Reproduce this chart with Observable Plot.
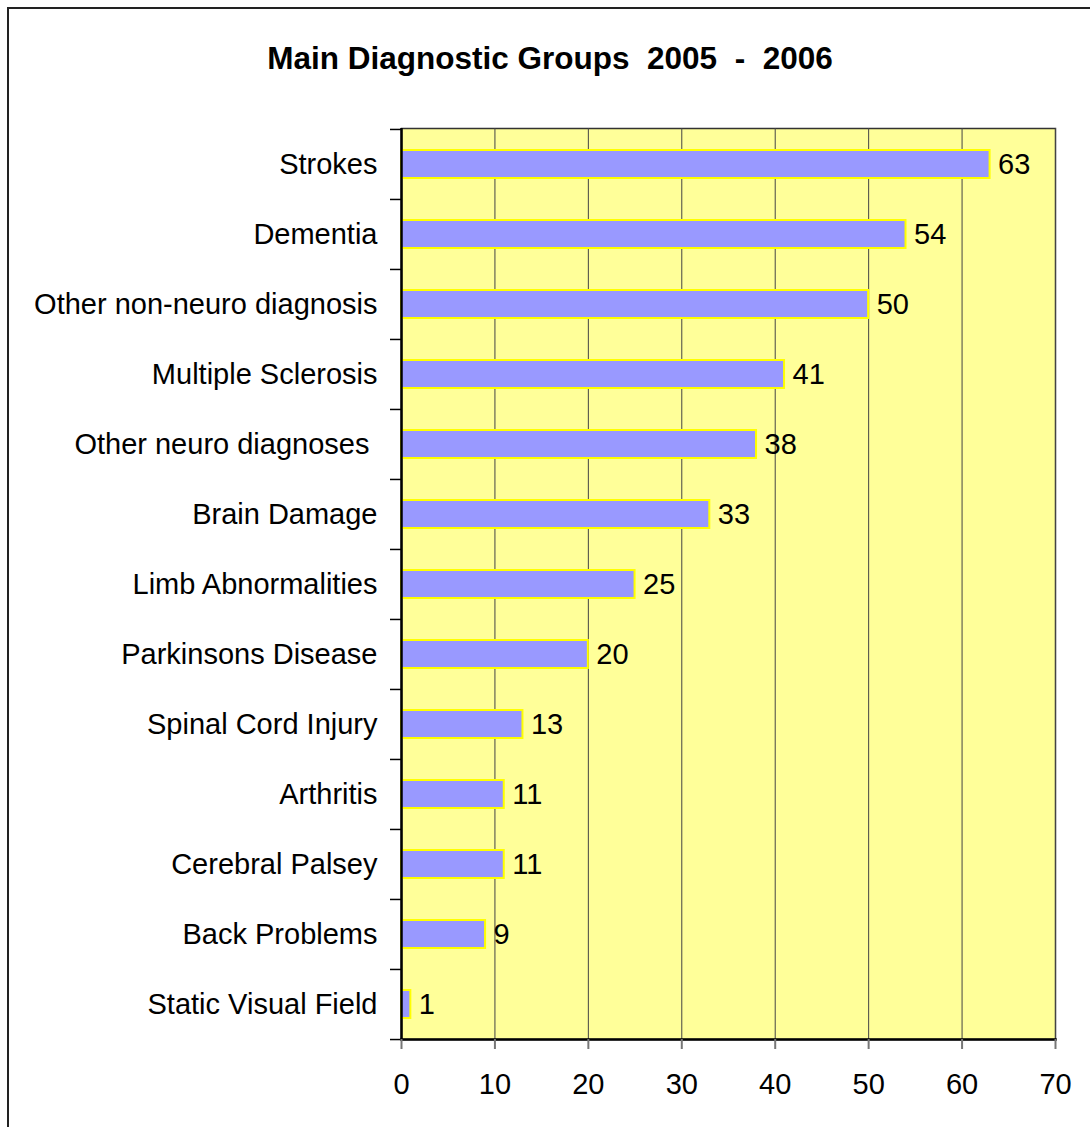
<!DOCTYPE html>
<html>
<head>
<meta charset="utf-8">
<script src="https://cdn.jsdelivr.net/npm/d3@7"></script>
<script src="https://cdn.jsdelivr.net/npm/@observablehq/plot@0.6"></script>
<style>
  html, body { margin: 0; padding: 0; background: #fff; }
  #page { position: relative; width: 1090px; height: 1127px; overflow: hidden; font-family: "Liberation Sans", Arial, sans-serif; }
  #border { position: absolute; left: 7px; top: 7px; width: 1200px; height: 1200px; border-left: 2px solid #222; border-top: 2px solid #222; box-sizing: border-box; }
  #title { position: absolute; left: 0; top: 43px; width: 1100px; text-align: center; font-weight: bold; font-size: 31.5px; line-height: 31px; white-space: pre; color: #000; }
  #chart { position: absolute; left: 0; top: 0; }
</style>
</head>
<body>
<div id="page">
  <div id="border"></div>
  <div id="chart"></div>
  <div id="title">Main Diagnostic Groups  2005  -  2006</div>
</div>
<script>
const categories = [
  "Strokes", "Dementia", "Other non-neuro diagnosis", "Multiple Sclerosis",
  "Other neuro diagnoses ", "Brain Damage", "Limb Abnormalities", "Parkinsons Disease",
  "Spinal Cord Injury", "Arthritis", "Cerebral Palsey", "Back Problems", "Static Visual Field"
];
const values = [63, 54, 50, 41, 38, 33, 25, 20, 13, 11, 11, 9, 1];
const xTicks = [0, 10, 20, 30, 40, 50, 60, 70];

const data = categories.map((name, i) => ({name, value: values[i]}));
const FS = 29;
const step = (1039 - 128) / categories.length;

const chart = Plot.plot({
  width: 1090,
  height: 1127,
  marginLeft: 401,
  marginRight: 35,
  marginTop: 128,
  marginBottom: 88,
  style: {fontFamily: '"Liberation Sans", Arial, sans-serif', background: "transparent", overflow: "visible"},
  x: {domain: [0, 70]},
  y: {domain: categories, paddingInner: 0.6, paddingOuter: 0.3},
  marks: [
    Plot.frame({fill: "#FFFF99", stroke: "#333", strokeWidth: 1.5}),
    Plot.gridX({ticks: xTicks, stroke: "#444", strokeOpacity: 1, strokeWidth: 1}),
    Plot.barX(data, {x: "value", y: "name", fill: "#9999FF", stroke: "#FFFF00", strokeWidth: 2}),
    Plot.text(data, {x: "value", y: "name", text: d => String(d.value), textAnchor: "start", dx: 8, fontSize: FS, fill: "#000"}),
    Plot.ruleX([0], {stroke: "#000", strokeWidth: 2.5}),
    Plot.frame({anchor: "bottom", stroke: "#000", strokeWidth: 2.5}),
    Plot.ruleY(categories, {y: d => d, x1: -1.18, x2: 0, dy: -step / 2, stroke: "#000", strokeWidth: 1.5, clip: false}),
    Plot.ruleY(categories.slice(-1), {y: d => d, x1: -1.18, x2: 0, dy: step / 2, stroke: "#000", strokeWidth: 1.5, clip: false}),
    Plot.axisY({tickSize: 0, tickPadding: 24, fontSize: FS, label: null, fill: "#000"}),
    Plot.axisX({ticks: xTicks, tickSize: 10, tickPadding: 24, fontSize: FS, label: null, stroke: "#777", strokeWidth: 2, fill: "#000"})
  ]
});
document.getElementById("chart").appendChild(chart);
</script>
</body>
</html>
